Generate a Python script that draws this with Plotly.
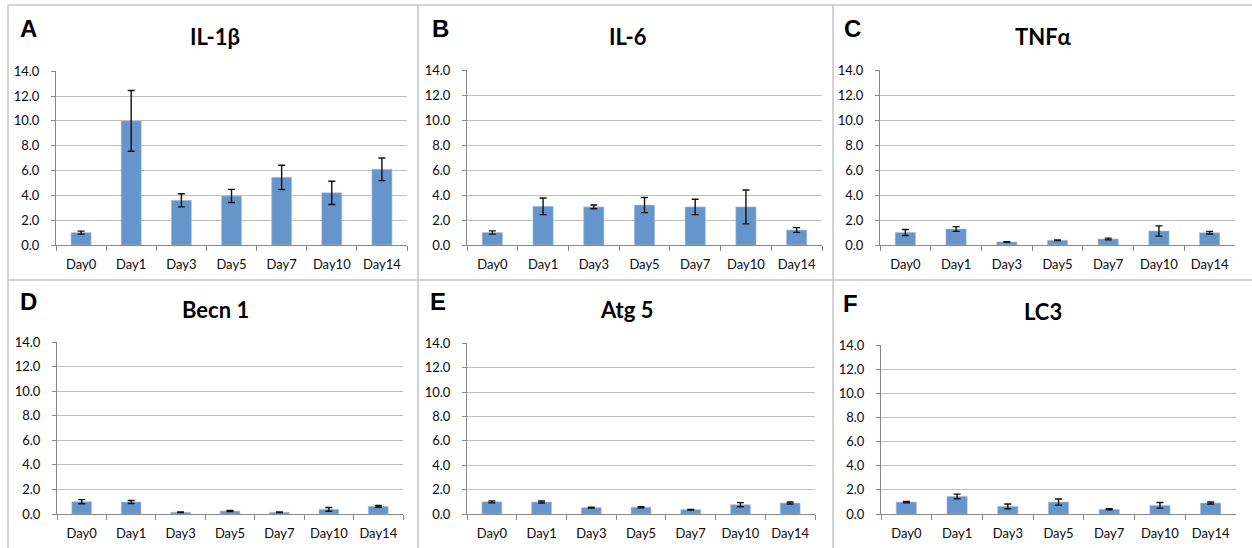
import plotly.graph_objects as go

days = ["Day0", "Day1", "Day3", "Day5", "Day7", "Day10", "Day14"]

il1b = [1.0, 10.0, 3.6, 3.95, 5.45, 4.2, 6.1]
il1b_err = [0.12, 2.45, 0.53, 0.53, 0.98, 0.94, 0.91]

il6 = [1.0, 3.1, 3.05, 3.2, 3.05, 3.05, 1.2]
il6_err = [0.13, 0.67, 0.15, 0.61, 0.62, 1.36, 0.19]

tnfa = [1.0, 1.28, 0.24, 0.38, 0.48, 1.12, 0.98]
tnfa_err = [0.24, 0.19, 0.03, 0.02, 0.07, 0.41, 0.1]

becn1 = [1.0, 0.98, 0.14, 0.24, 0.14, 0.38, 0.62]
becn1_err = [0.17, 0.12, 0.03, 0.04, 0.03, 0.15, 0.07]

atg5 = [1.0, 0.98, 0.52, 0.55, 0.35, 0.76, 0.9]
atg5_err = [0.08, 0.08, 0.03, 0.04, 0.03, 0.17, 0.08]

lc3 = [0.99, 1.46, 0.63, 0.99, 0.39, 0.72, 0.91]
lc3_err = [0.06, 0.19, 0.2, 0.25, 0.04, 0.23, 0.08]

letters = ["A", "B", "C", "D", "E", "F"]
titles = ["IL-1β", "IL-6", "TNFα", "Becn 1", "Atg 5", "LC3"]
values = [il1b, il6, tnfa, becn1, atg5, lc3]
errors = [il1b_err, il6_err, tnfa_err, becn1_err, atg5_err, lc3_err]
y_ticks = [0, 2, 4, 6, 8, 10, 12, 14]

W, H = 1252, 548
# plot-area pixel boxes (left, right, top, bottom)
boxes = [(56, 407, 71, 245), (467, 822, 70, 245), (880, 1235, 70, 245),
         (57, 403, 342, 514), (467, 815, 343, 514), (881, 1236, 345, 514)]
title_pos = [(215, 36), (628, 36), (1043, 36), (215, 309), (627, 309), (1043, 311)]
letter_pos = [(28, 28), (440, 28), (852, 28), (28, 301), (438, 301), (850, 303)]

BAR = "#6595CB"
GRID = "#BEBEBE"
AXIS = "#888888"
TXT = "#0a0a0a"

fig = go.Figure()
layout = dict(width=W, height=H, margin=dict(l=0, r=0, t=0, b=0, autoexpand=False),
              paper_bgcolor="white", plot_bgcolor="white", showlegend=False)
annotations = []
for i in range(6):
    n = "" if i == 0 else str(i + 1)
    l, r, t, b = boxes[i]
    fig.add_trace(go.Bar(
        x=days, y=values[i], xaxis="x" + n, yaxis="y" + n,
        marker=dict(color=BAR, line=dict(color="#A9C3E3", width=0.6)),
        width=0.4,
        error_y=dict(type="data", array=errors[i], visible=True,
                     color="#111111", thickness=1.4, width=3.5),
    ))
    layout["xaxis" + n] = dict(
        domain=[l / W, r / W], anchor="y" + n, type="category",
        showline=True, linecolor=AXIS, linewidth=1, automargin=False,
        ticks="outside", tickson="boundaries", ticklen=5, tickcolor=AXIS,
        ticklabelstandoff=7,
        showgrid=False, tickfont=dict(family="Lato", size=13, color=TXT),
        fixedrange=True)
    layout["yaxis" + n] = dict(
        domain=[1 - b / H, 1 - t / H], anchor="x" + n, range=[0, 14.02],
        tickvals=y_ticks, ticktext=[f"{v:.1f}" for v in y_ticks],
        showline=True, linecolor=AXIS, linewidth=1, automargin=False,
        ticks="outside", ticklen=4, tickcolor=AXIS, ticklabelstandoff=9,
        showgrid=True, gridcolor=GRID, gridwidth=1, zeroline=False,
        tickfont=dict(family="Lato", size=13, color=TXT), fixedrange=True)
    tx, ty = title_pos[i]
    annotations.append(dict(text="<b>" + titles[i] + "</b>", x=tx / W, y=1 - ty / H,
                            xref="paper", yref="paper", showarrow=False,
                            xanchor="center", yanchor="middle",
                            font=dict(family="Lato", size=22, color="#000")))
    lx, ly = letter_pos[i]
    annotations.append(dict(text="<b>" + letters[i] + "</b>", x=lx / W, y=1 - ly / H,
                            xref="paper", yref="paper", showarrow=False,
                            xanchor="center", yanchor="middle",
                            font=dict(family="Liberation Sans", size=24, color="#000")))

layout["annotations"] = annotations
line_col = "#C4C4C4"
layout["shapes"] = [
    dict(type="line", xref="paper", yref="paper", x0=8 / W, x1=1, y0=1 - 5 / H, y1=1 - 5 / H,
         line=dict(color=line_col, width=1.5)),
    dict(type="line", xref="paper", yref="paper", x0=8 / W, x1=1, y0=1 - 280 / H, y1=1 - 280 / H,
         line=dict(color=line_col, width=1.5)),
    dict(type="line", xref="paper", yref="paper", x0=8 / W, x1=8 / W, y0=0, y1=1 - 5 / H,
         line=dict(color=line_col, width=1.5)),
    dict(type="line", xref="paper", yref="paper", x0=418 / W, x1=418 / W, y0=0, y1=1 - 5 / H,
         line=dict(color=line_col, width=1.5)),
    dict(type="line", xref="paper", yref="paper", x0=833 / W, x1=833 / W, y0=0, y1=1 - 5 / H,
         line=dict(color=line_col, width=1.5)),
]
fig.update_layout(**layout)
fig.write_html("out.html", config={"displayModeBar": False},
               post_script="document.body.style.margin='0';")
